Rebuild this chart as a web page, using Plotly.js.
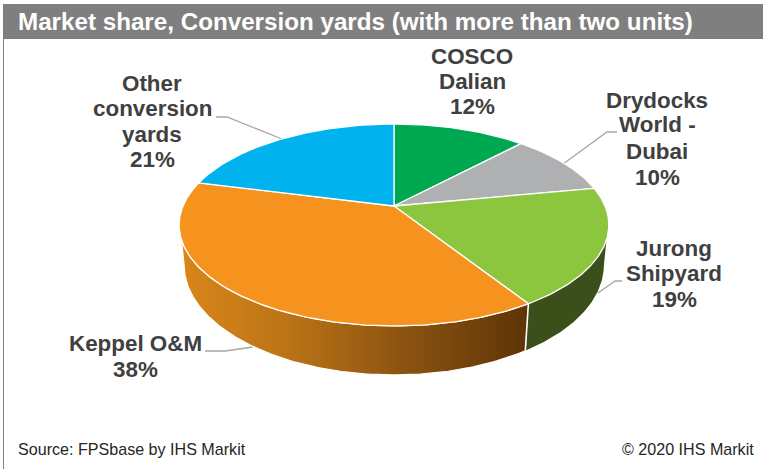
<!DOCTYPE html>
<html>
<head>
<meta charset="utf-8">
<script src="https://cdn.plot.ly/plotly-3.0.1.min.js"></script>
<style>html,body{margin:0;padding:0;background:#fff;}#chart{width:763px;height:469px;}</style>
</head>
<body>
<div id="chart"></div>
<script>
// Market share by conversion yard, clockwise from twelve o'clock
const yards = ["COSCO Dalian", "Drydocks World - Dubai", "Jurong Shipyard", "Keppel O&M", "Other conversion yards"];
const shares = [12, 10, 19, 38, 21];
const sliceColors = ["#00A94F", "#AFB0B2", "#8CC63F", "#F6921E", "#00B2EE"];

// Wrapped label text for each yard
const labelLines = [["COSCO", "Dalian"], ["Drydocks", "World -", "Dubai"], ["Jurong", "Shipyard"], ["Keppel O&M"], ["Other", "conversion", "yards"]];

const titleText = "Market share, Conversion yards (with more than two units)";
const sourceText = "Source: FPSbase by IHS Markit";
const copyrightText = "© 2020 IHS Markit";

const W = 763, H = 469;
const toPaperX = x => x / W;
const toPaperY = y => 1 - y / H;

// Tilted disc: pixel scale of one pie radius, and the strength of the perspective
const apexX = 394, apexY = 206, scaleX = 211, scaleY = 97.4, persp = 0.188;
const rimCentreY = 225 - apexY, rimRy = 101, baseCentreY = 265 - apexY, baseRy = 110, baseShrink = 0.977;

function rimPoint(deg) {
  const t = deg * Math.PI / 180;
  const d = 1 + persp * Math.cos(t);
  return [Math.sin(t) / d, Math.cos(t) / d];
}
function basePoint(deg) {
  const [x, y] = rimPoint(deg);
  const yPx = -y * scaleY;
  const yBase = baseCentreY + (yPx - rimCentreY) * baseRy / rimRy;
  return [x * baseShrink, -yBase / scaleY];
}
function arc(fn, from, to) {
  const n = Math.max(2, Math.round(Math.abs(to - from) * 1.5));
  const pts = [];
  for (let i = 0; i <= n; i++) pts.push(fn(from + (to - from) * i / n));
  return pts;
}

const total = shares.reduce((a, b) => a + b, 0);
let running = 0;
const edges = [0].concat(shares.map(v => { running += v; return running / total * 360; }));

function polygon(pts, extra) {
  return Object.assign({
    x: pts.map(p => p[0]), y: pts.map(p => p[1]),
    mode: "lines", fill: "toself", hoverinfo: "skip", showlegend: false
  }, extra);
}

// Side walls sit underneath the top face
const jurongEnd = edges[3], keppelLeft = 251, keppelBaseLeft = 259, jurongRight = 109, jurongBaseRight = 101;
const wallKeppel = polygon(
  arc(rimPoint, jurongEnd, keppelLeft).concat(arc(basePoint, keppelBaseLeft, jurongEnd)),
  { line: { color: "#ffffff", width: 1.2 }, fillgradient: { type: "horizontal",
    colorscale: [[0, "#D9861A"], [0.3, "#BC7416"], [0.65, "#8A5210"], [1, "#5E3407"]] } });
const wallJurong = polygon(
  arc(rimPoint, jurongRight, jurongEnd).concat(arc(basePoint, jurongEnd, jurongBaseRight)),
  { line: { color: "#ffffff", width: 0 }, fillcolor: "#3A4F1A" });
const wallDivider = (() => {
  const pts = [rimPoint(jurongEnd), basePoint(jurongEnd)];
  return { x: pts.map(p => p[0]), y: pts.map(p => p[1]), mode: "lines", hoverinfo: "skip", showlegend: false,
    line: { color: "#ffffff", width: 1.6 } };
})();

// Top face slices
const slices = shares.map((v, i) => polygon(
  [[0, 0]].concat(arc(rimPoint, edges[i], edges[i + 1])).concat([[0, 0]]),
  { fillcolor: sliceColors[i], line: { color: "#ffffff", width: 1.3 }, name: yards[i] }));

// Label anchors: centre x, then the centre y of each text line
const labelAnchors = [
  { x: 472, ys: [56, 82, 107] },
  { x: 657, ys: [100, 125, 151, 177] },
  { x: 674, ys: [249, 273, 299] },
  { x: 135, ys: [343, 369] },
  { x: 152, ys: [84, 109, 134, 160] }
];
const labelFont = { family: "Liberation Sans, Arial, sans-serif", size: 22.4, color: "#404040" };
const annotations = [];
shares.forEach((v, i) => {
  labelLines[i].concat([v + "%"]).forEach((line, j) => {
    annotations.push({ xref: "paper", yref: "paper", x: toPaperX(labelAnchors[i].x), y: toPaperY(labelAnchors[i].ys[j]),
      xanchor: "center", yanchor: "middle", showarrow: false, text: "<b>" + line + "</b>", font: labelFont });
  });
});
annotations.push({ xref: "paper", yref: "paper", x: toPaperX(16), y: toPaperY(22), xanchor: "left", yanchor: "middle",
  showarrow: false, text: "<b>" + titleText + "</b>", font: { family: "Liberation Sans, Arial, sans-serif", size: 24.2, color: "#ffffff" } });
annotations.push({ xref: "paper", yref: "paper", x: toPaperX(16), y: toPaperY(449), xanchor: "left", yanchor: "middle",
  showarrow: false, text: sourceText, font: { family: "Liberation Sans, Arial, sans-serif", size: 16.1, color: "#262626" } });
annotations.push({ xref: "paper", yref: "paper", x: toPaperX(756), y: toPaperY(449), xanchor: "right", yanchor: "middle",
  showarrow: false, text: copyrightText, font: { family: "Liberation Sans, Arial, sans-serif", size: 16.1, color: "#262626" } });

// Leader lines from the labels to the disc
function leader(points) {
  return { type: "path", xref: "paper", yref: "paper", layer: "below",
    path: points.map((p, i) => (i ? "L" : "M") + toPaperX(p[0]) + "," + toPaperY(p[1])).join(" "),
    line: { color: "#A6A6A6", width: 1.3 } };
}
const shapes = [
  { type: "rect", xref: "paper", yref: "paper", layer: "below", x0: toPaperX(3), x1: 1, y0: toPaperY(39), y1: toPaperY(4),
    fillcolor: "#7F7F7F", line: { width: 0 } },
  { type: "line", xref: "paper", yref: "paper", layer: "below", x0: toPaperX(3.5), x1: toPaperX(3.5), y0: toPaperY(39), y1: 0,
    line: { color: "#808080", width: 1 } },
  leader([[216, 117], [227, 117], [282, 139]]),
  leader([[563, 164], [607, 132], [617, 132]]),
  leader([[205, 351], [225, 351], [253, 347]]),
  leader([[598, 293], [615, 281], [622, 281]])
];

const layout = {
  width: W, height: H,
  margin: { l: 0, r: 0, t: 0, b: 0 },
  paper_bgcolor: "#ffffff", plot_bgcolor: "rgba(0,0,0,0)",
  showlegend: false,
  xaxis: { visible: false, fixedrange: true, range: [-apexX / scaleX, (W - apexX) / scaleX] },
  yaxis: { visible: false, fixedrange: true, range: [(apexY - H) / scaleY, apexY / scaleY] },
  annotations: annotations,
  shapes: shapes
};

Plotly.newPlot("chart", [wallKeppel, wallJurong, wallDivider].concat(slices), layout, { displayModeBar: false, responsive: false });
</script>
</body>
</html>
